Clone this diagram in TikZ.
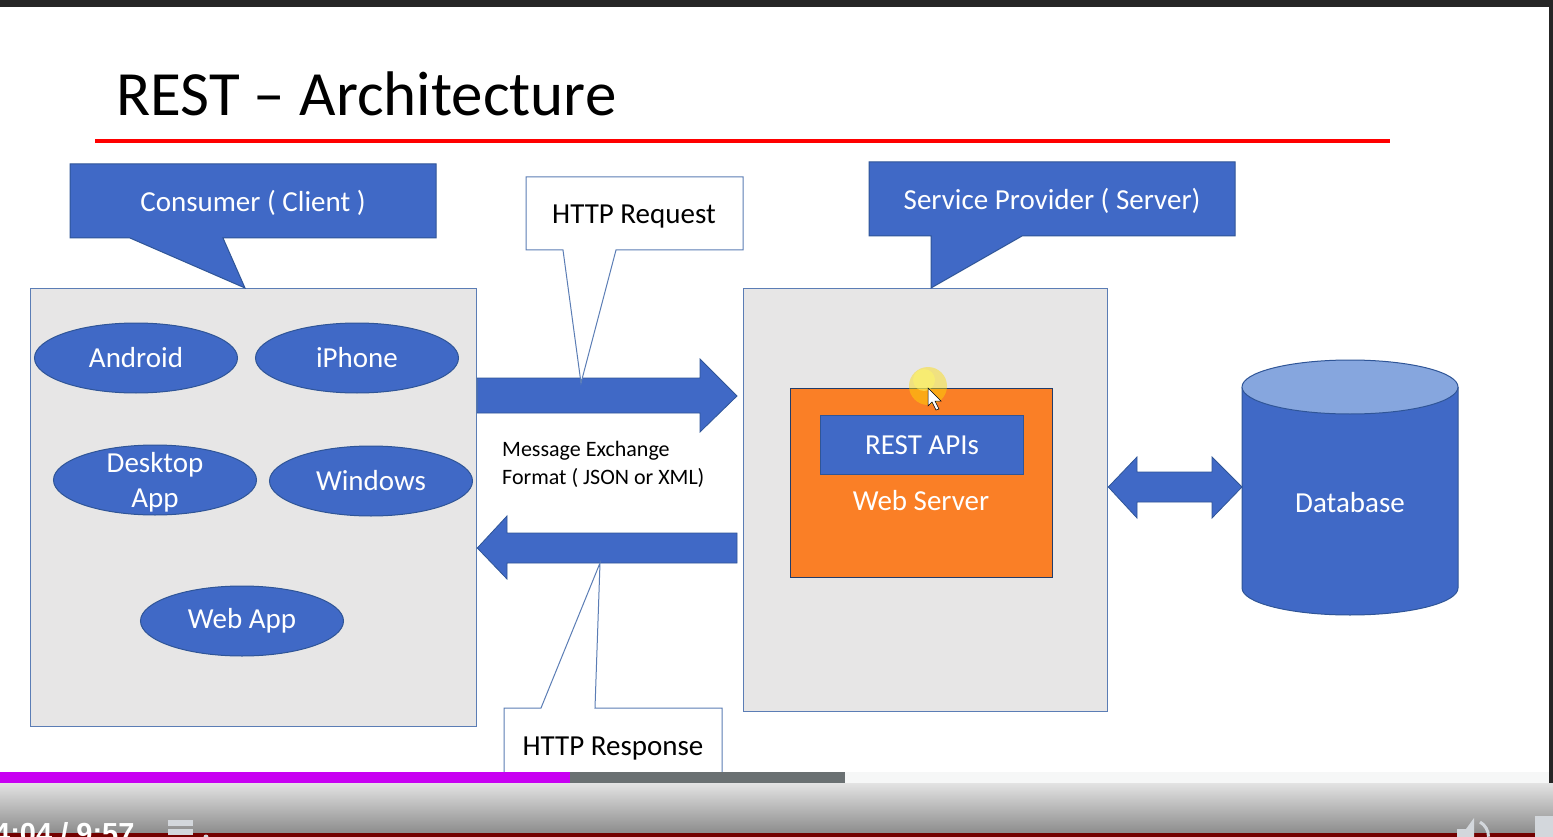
\documentclass[tikz,border=0pt]{standalone}
\usepackage{fontspec}
\setmainfont{Carlito}
\newfontfamily\playerfont{Liberation Sans}
\usetikzlibrary{shapes.geometric,calc,positioning}
\definecolor{slideblue}{HTML}{4069C6}
\definecolor{blueedge}{HTML}{2F5597}
\definecolor{panel}{HTML}{E7E6E6}
\definecolor{paneledge}{HTML}{5B7DB5}
\definecolor{serverorange}{HTML}{FA7F26}
\definecolor{dbtop}{HTML}{86A6DE}
\definecolor{titlered}{HTML}{FF0000}
\definecolor{seekdone}{HTML}{C800F2}
\definecolor{seekload}{HTML}{6A7072}
\definecolor{seekrest}{HTML}{F6F7F7}
\definecolor{playerdark}{HTML}{262626}
\definecolor{playericon}{HTML}{D3D7DC}

\begin{document}
\begin{tikzpicture}[
    x=1pt, y=-1pt,
    font=\fontsize{29}{31}\selectfont,
    callout/.style={fill=slideblue, draw=blueedge, line width=1pt, line join=miter},
    tagbox/.style={fill=white, draw=paneledge, line width=1pt, line join=miter},
    panelbox/.style={fill=panel, draw=paneledge, line width=1.3pt},
    device/.style={ellipse, fill=slideblue, draw=blueedge, line width=1pt,
                   minimum width=203pt, minimum height=70pt, inner sep=0pt,
                   text=white, font=\fontsize{29}{35}\selectfont},
    blockarrow/.style={fill=slideblue, draw=blueedge, line width=0.8pt},
    caption/.style={inner sep=0pt, text=white}
]
\useasboundingbox (0,0) rectangle (1553,837);
\clip (0,0) rectangle (1553,837);
\fill[white] (0,0) rectangle (1553,837);

% title
\node[anchor=base west, inner sep=0pt, font=\fontsize{63}{70}\selectfont] (title) at (116,116) {REST – Architecture};
\draw[titlered, line width=4pt] (95,141) -- (1390,141);

% consumer side
\node[panelbox, anchor=north west, minimum width=446pt, minimum height=438pt, inner sep=0pt] (client) at (30,288) {};
\draw[callout] (70,164) -- (436,164) -- (436,238) -- (223,238) -- (client.north -| 245,0) -- (130,238) -- (70,238) -- cycle;
\node[caption] (clientTag) at (253,203) {Consumer ( Client )};

\node[device] (android) at (136,358) {Android};
\node[device] (iphone) at (357,358) {iPhone};
\node[device] (desktop) at (155,480) {};
\node[caption, align=center, font=\fontsize{29}{35}\selectfont] (desktopText) at (155,482) {Desktop\\App};
\node[device] (windows) at (371,481) {Windows};
\node[device] (webapp) at (242,621) {Web App};

% server side
\node[panelbox, anchor=north west, minimum width=364pt, minimum height=423pt, inner sep=0pt] (server) at (743,288) {};
\draw[callout] (869,162) -- (1235,162) -- (1235,236) -- (1022,236) -- (server.north -| 931,0) -- (931,236) -- (869,236) -- cycle;
\node[caption] (serverTag) at (1052,201) {Service Provider ( Server)};

\node[fill=serverorange, draw=blueedge!70!black, line width=1pt, anchor=north west,
      minimum width=262pt, minimum height=189pt, inner sep=0pt] (webserver) at (790,388) {};
\node[fill=slideblue, draw=blueedge, line width=1pt, anchor=north west,
      minimum width=203pt, minimum height=59pt, inner sep=0pt, text=white] (restapi) at (820,415) {REST APIs};
\node[caption] (webserverText) at (921,501) {Web Server};

% database
\fill[slideblue] (1242,387) -- (1242,588) arc[start angle=180, end angle=360, x radius=108pt, y radius=27pt] -- (1458,387) -- cycle;
\draw[blueedge, line width=1pt] (1242,387) -- (1242,588) arc[start angle=180, end angle=360, x radius=108pt, y radius=27pt] -- (1458,387);
\draw[blueedge, line width=1pt, fill=dbtop] (1350,387) ellipse[x radius=108pt, y radius=27pt];
\node[caption] (db) at (1350,503) {Database};
\coordinate (dbWest) at (1242,487);

% request / response arrows
\draw[blockarrow] (client.east |- 0,378) -- (700,378) -- (700,359) -- (737,396)
    -- (700,432) -- (700,413) -- (client.east |- 0,413) -- cycle;
\draw[blockarrow] (737,533) -- (507,533) -- (507,516) -- (client.east |- 0,548)
    -- (507,579) -- (507,563) -- (737,563) -- cycle;
\draw[blockarrow] (server.east |- dbWest) -- (1137,457) -- (1137,472) -- (1212,472) -- (1212,457)
    -- (dbWest) -- (1212,518) -- (1212,502) -- (1137,502) -- (1137,518) -- cycle;

\node[anchor=west, inner sep=0pt, align=left, font=\fontsize{22}{28}\selectfont] (format) at (502,464)
    {Message Exchange\\Format ( JSON or XML)};

% http callouts
\draw[tagbox] (526,177) -- (743,177) -- (743,250) -- (616,250) -- (581,383) -- (563,250) -- (526,250) -- cycle;
\node[inner sep=0pt] (reqTag) at (634,217) {HTTP Request};
\draw[tagbox] (504,790) -- (504,708) -- (541,708) -- (600,563) -- (595,708) -- (722,708) -- (722,790);
\node[inner sep=0pt] (respTag) at (613,749) {HTTP Response};

% pointer highlight
\fill[yellow!80!orange, opacity=0.45] (928,386) circle[radius=19pt];
\fill[yellow!60, opacity=0.5] (924,380) circle[radius=11pt];
\draw[black, fill=white, line width=0.5pt] (928,388) -- (928,406) -- (932,402) -- (936,410) -- (939,409) -- (935,401) -- (941,401) -- cycle;

% video player chrome
\fill[playerdark] (0,0) rectangle (1553,7);
\fill[playerdark] (1549,0) rectangle (1553,783);
\fill[seekdone] (0,772) rectangle (570,783);
\fill[seekload] (570,772) rectangle (845,783);
\fill[seekrest] (845,772) rectangle (1549,783);
\shade[top color=black!11, bottom color=black!45] (0,783) rectangle (1553,833);
\fill[red!45!black] (0,833) rectangle (1553,837);
\node[anchor=base west, inner sep=0pt, text=white, font=\playerfont\bfseries\fontsize{29}{30}\selectfont] (clock) at (-6,843) {4:04 / 9:57};
\fill[playericon] (168,820) rectangle (193,826);
\fill[playericon] (168,829) rectangle (193,835);
\fill[playericon] (206,837) circle[radius=2.5pt];
\fill[playericon] (1457,829) -- (1466,829) -- (1474,818) -- (1474,837) -- (1457,837) -- cycle;
\draw[playericon, line width=3pt] (1480,822) arc[start angle=60, end angle=0, radius=17pt];
\fill[playericon] (1535,816) rectangle (1553,837);
\end{tikzpicture}
\end{document}
